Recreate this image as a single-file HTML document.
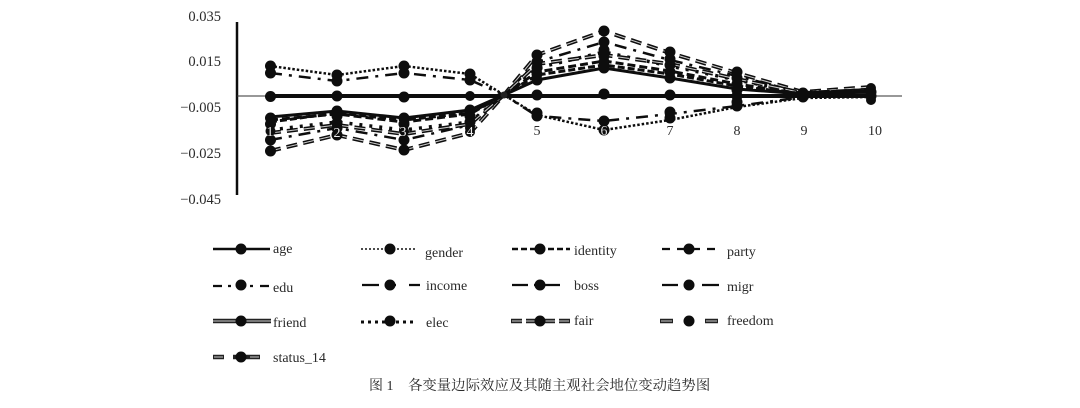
<!DOCTYPE html>
<html><head><meta charset="utf-8"><style>
html,body{margin:0;padding:0;background:#fff;width:1080px;height:408px;overflow:hidden}
text{font-family:"Liberation Serif","Noto Serif CJK SC",serif;fill:#2a2a2a;font-size:14px}
.l{fill:none;stroke:#111}
.w{fill:none;stroke:#ccc}
</style></head><body>
<svg width="1080" height="408" viewBox="0 0 1080 408" xmlns="http://www.w3.org/2000/svg">
<defs><filter id="b" x="0" y="0" width="100%" height="100%"><feGaussianBlur stdDeviation="0.35"/></filter></defs>
<rect width="1080" height="408" fill="#fff"/>
<g filter="url(#b)">
<g text-anchor="end" style="font-size:14.5px">
<text x="221" y="21" style="font-size:14.5px">0.035</text><text x="221" y="66" style="font-size:14.5px">0.015</text><text x="221" y="112" style="font-size:14.5px">−0.005</text><text x="221" y="158" style="font-size:14.5px">−0.025</text><text x="221" y="204" style="font-size:14.5px">−0.045</text>
</g>
<line x1="237" y1="22" x2="237" y2="195" stroke="#111" stroke-width="2.5"/>
<line x1="237" y1="96" x2="902" y2="96" stroke="#333" stroke-width="1"/>
<!-- series -->
<polyline class="l" stroke-width="2.5" stroke-dasharray="2.5 2" points="270,66 337,75 404,66 470,74 504,95 537,115 604,130 670,120 737,107 803,98 871,97"/>
<polyline class="l" stroke-width="2.5" stroke-dasharray="12 7 3 7" points="270,73 337,81 404,73 470,80 504,95 537,116 604,121 670,114 737,106 803,97 871,95"/>
<polyline class="l" stroke-width="4" stroke-dasharray="11 6" points="270,151 337,135 404,150 470,133 504,95 537,55 604,31 670,53 737,73 803,92 871,87"/>
<polyline class="w" stroke-width="1" stroke-dasharray="11 6" points="270,151 337,135 404,150 470,133 504,95 537,55 604,31 670,53 737,73 803,92 871,87"/>
<polyline class="l" stroke-width="2.5" stroke-dasharray="12 7 3 7" points="270,140 337,128 404,140 470,125 504,95 537,62 604,42 670,60 737,76 803,93 871,89"/>
<polyline class="l" stroke-width="3.500" stroke-dasharray="3 7" points="270,130 337,122 404,130 470,122 504,95 537,68 604,52 670,66 737,80 803,93 871,90"/>
<polyline class="l" stroke-width="4" stroke-dasharray="11 6" points="270,133 337,125 404,134 470,124 504,95 537,64 604,55 670,64 737,79 803,93 871,90"/>
<polyline class="w" stroke-width="1" stroke-dasharray="11 6" points="270,133 337,125 404,134 470,124 504,95 537,64 604,55 670,64 737,79 803,93 871,90"/>
<polyline class="l" stroke-width="3" points="270,117 337,111 404,118 470,110 504,95 537,80 604,68 670,78 737,89 803,94 871,92"/>
<polyline class="l" stroke-width="3" stroke-dasharray="7 3" points="270,122 337,113 404,120 470,113 504,95 537,75 604,65 670,74 737,86 803,94 871,91"/>
<polyline class="l" stroke-width="3" stroke-dasharray="8 4" points="270,120 337,114 404,122 470,114 504,95 537,72 604,61 670,71 737,84 803,94 871,91"/>
<line x1="270" y1="96" x2="871" y2="96" stroke="#0a0a0a" stroke-width="4"/>
<!-- markers -->
<g fill="#0a0a0a">
<circle cx="270.500" cy="96.500" r="5.500"/><circle cx="337" cy="96" r="5.500"/><circle cx="404" cy="97" r="5.500"/><circle cx="470" cy="96" r="5"/><circle cx="537" cy="95" r="5.500"/><circle cx="604" cy="94" r="5.500"/><circle cx="670" cy="95" r="5.500"/>
<circle cx="270.500" cy="66" r="5.500"/><circle cx="270.500" cy="73" r="5.500"/><circle cx="337" cy="75" r="5.500"/><circle cx="337" cy="81" r="5.500"/><circle cx="404" cy="66" r="5.500"/><circle cx="404" cy="73" r="5.500"/><circle cx="470" cy="74" r="5.500"/><circle cx="470" cy="80" r="5.500"/>
<circle cx="270.500" cy="118" r="5.500"/><circle cx="270.500" cy="124" r="5.500"/><circle cx="270.500" cy="131" r="5"/><circle cx="270.500" cy="140" r="5.500"/><circle cx="270.500" cy="151" r="5.500"/>
<circle cx="337" cy="111" r="5.500"/><circle cx="337" cy="116" r="5.500"/><circle cx="337" cy="123" r="5.500"/><circle cx="337" cy="128" r="5.500"/><circle cx="337" cy="135" r="5.500"/>
<circle cx="404" cy="118" r="5.500"/><circle cx="404" cy="124" r="5.500"/><circle cx="404" cy="131" r="5"/><circle cx="404" cy="140" r="5.500"/><circle cx="404" cy="150" r="5.500"/>
<circle cx="470" cy="110" r="5.500"/><circle cx="470" cy="116" r="5.500"/><circle cx="470" cy="122" r="5.500"/><circle cx="470" cy="128" r="5"/><circle cx="470" cy="132" r="5"/>
<circle cx="537" cy="55" r="5.500"/><circle cx="537" cy="62" r="5.500"/><circle cx="537" cy="68" r="5.500"/><circle cx="537" cy="74" r="5.500"/><circle cx="537" cy="80" r="5.500"/>
<circle cx="537" cy="113" r="5.500"/><circle cx="537" cy="116" r="5.500"/>
<circle cx="604" cy="31" r="5.500"/><circle cx="604" cy="42" r="5.500"/><circle cx="604" cy="50" r="5.500"/><circle cx="604" cy="56" r="5.500"/><circle cx="604" cy="62" r="5.500"/><circle cx="604" cy="68" r="5.500"/>
<circle cx="604" cy="121" r="5.500"/><circle cx="604" cy="130" r="5.500"/>
<circle cx="670" cy="52" r="5.500"/><circle cx="670" cy="59" r="5.500"/><circle cx="670" cy="65" r="5.500"/><circle cx="670" cy="72" r="5.500"/><circle cx="670" cy="78" r="5.500"/>
<circle cx="670" cy="112" r="5.500"/><circle cx="670" cy="118" r="5.500"/>
<circle cx="737" cy="72" r="5.500"/><circle cx="737" cy="78" r="5.500"/><circle cx="737" cy="84" r="5.500"/><circle cx="737" cy="90" r="5.500"/><circle cx="737" cy="96" r="5.500"/><circle cx="737" cy="102" r="5.500"/><circle cx="737" cy="106" r="5.500"/>
<circle cx="803" cy="93" r="5.500"/><circle cx="803" cy="97" r="5.500"/>
<circle cx="871" cy="88" r="5"/><circle cx="871" cy="92" r="5.500"/><circle cx="871" cy="96" r="5.500"/><circle cx="871" cy="100" r="5"/>
</g>
<g stroke="#111" stroke-width="3"><line x1="803" y1="93" x2="871" y2="91"/><line x1="803" y1="96" x2="871" y2="95"/></g>
<circle cx="504" cy="95" r="3.500" fill="#222"/>
<g text-anchor="middle">
<text x="270" y="136" style="fill:#eee">1</text><text x="337" y="137" style="fill:#eee">2</text><text x="403" y="136" style="fill:#eee">3</text><text x="470" y="136" style="fill:#eee">4</text>
<text x="537" y="135">5</text><text x="604" y="135" style="fill:#ddd">6</text><text x="670" y="135">7</text><text x="737" y="135">8</text><text x="804" y="135">9</text><text x="875" y="135">10</text>
</g>
<!-- legend -->
<g stroke="#111" fill="none" stroke-width="2.200">
<line x1="213" y1="249" x2="270" y2="249" stroke-width="2.500"/>
<line x1="361" y1="249" x2="416" y2="249" stroke-width="1.600" stroke-dasharray="2 2"/>
<line x1="512" y1="249" x2="570" y2="249" stroke-width="2.500" stroke-dasharray="6 3"/>
<path d="M662 249H670M677 249H700M707 249H715"/>
<path d="M213 286H222M228 286H231M250 286H253M260 286H269"/>
<path d="M362 285H379M385 285H396M409 285H420"/>
<path d="M512 285H528M534 285H560"/>
<path d="M662 285H678M702 285H719"/>
<line x1="361" y1="322" x2="416" y2="322" stroke-width="3" stroke-dasharray="3 4"/>
</g>
<g fill="none" stroke="#222" stroke-width="4.500">
<path d="M213 321H271"/>
<path d="M511 321H522M526 321H537M543 321H555M559 321H570"/>
<path d="M660 321H673M705 321H718"/>
<path d="M213 357H224M233 357H260"/>
</g>
<g fill="none" stroke="#aaa" stroke-width="1.300">
<path d="M213 321H271"/>
<path d="M512 321H522M526 321H537M543 321H555M559 321H569"/>
<path d="M661 321H672M706 321H717"/>
<path d="M214 357H223M250 357H259"/>
</g>
<g fill="#0a0a0a">
<circle cx="241" cy="249" r="5.500"/><circle cx="390" cy="249" r="5.500"/><circle cx="540" cy="249" r="5.500"/><circle cx="689" cy="249" r="5.500"/>
<circle cx="241" cy="285" r="5.500"/><circle cx="390" cy="285" r="5.500"/><circle cx="540" cy="285" r="5.500"/><circle cx="689" cy="285" r="5.500"/>
<circle cx="241" cy="321" r="5.500"/><circle cx="390" cy="321" r="5.500"/><circle cx="540" cy="321" r="5.500"/><circle cx="689" cy="321" r="5.500"/>
<circle cx="241" cy="357" r="5.500"/>
</g>
<text x="273" y="253">age</text><text x="425" y="257">gender</text><text x="574" y="255">identity</text><text x="727" y="256">party</text>
<text x="273" y="292">edu</text><text x="426" y="290">income</text><text x="574" y="290">boss</text><text x="727" y="291">migr</text>
<text x="273" y="327">friend</text><text x="426" y="327">elec</text><text x="574" y="325">fair</text><text x="727" y="325">freedom</text>
<text x="273" y="362">status_14</text>
<text x="369" y="390" style="font-size:14px">图 1</text>
<text x="408" y="390" style="font-size:14.400px">各变量边际效应及其随主观社会地位变动趋势图</text>
</g>
</svg>
</body></html>
